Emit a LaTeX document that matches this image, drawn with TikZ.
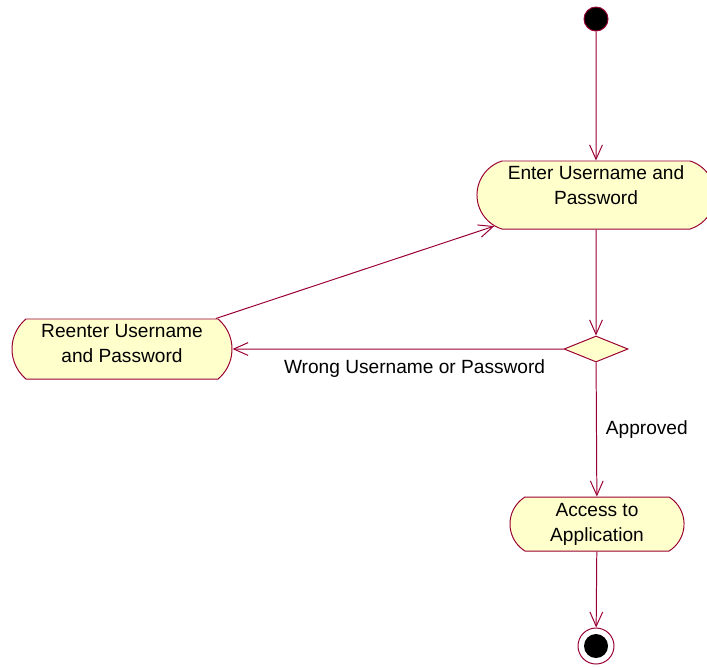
\documentclass[tikz,border=0pt]{standalone}
\usepackage{fontspec}
\setmainfont{Liberation Sans}
\usetikzlibrary{shapes.misc,shapes.geometric,arrows.meta}

\definecolor{roseline}{RGB}{153,0,51}
\definecolor{rosefill}{RGB}{255,255,204}

\tikzset{
	activity/.style={rounded rectangle,draw=roseline,fill=rosefill,line width=0.7pt,align=center,inner sep=0pt},
	decision/.style={diamond,draw=roseline,fill=rosefill,line width=0.7pt,inner sep=0pt,minimum width=1.6cm,minimum height=0.65cm},
	flow/.style={draw=roseline,line width=0.7pt,-{Straight Barb[length=3.6mm,width=3.2mm,line width=0.7pt]}},
	txt/.style={font=\fontsize{13.6}{17.7}\selectfont}
}

\begin{document}
\begin{tikzpicture}[x=0.025cm,y=-0.025cm]
	\useasboundingbox (0,0) rectangle (707,667);
\node[circle,fill=black,draw=roseline,line width=0.7pt,minimum size=0.6cm,inner sep=0pt] (start) at (596,19) {};
\node[activity,txt,minimum width=5.95cm,minimum height=1.7cm,rounded rectangle arc length=145,text depth=0.5cm] (enter) at (596,195) {Enter Username and\\Password};
\node[decision] (check) at (596,349) {};
\node[activity,txt,minimum width=5.5cm,minimum height=1.5cm,rounded rectangle arc length=100,text depth=0.3cm] (reenter) at (122,349) {Reenter Username\\and Password};
\node[activity,txt,minimum width=4.35cm,minimum height=1.35cm,rounded rectangle arc length=116] (access) at (597,524) {Access to\\Application};
\node[circle,draw=roseline,fill=white,line width=0.7pt,minimum size=0.9cm,inner sep=0pt] (stop) at (596,646) {};
\node[circle,fill=black,minimum size=0.6cm,inner sep=0pt] (stopdot) at (596,646) {};

\draw[flow] (start) -- (enter);
\draw[flow] (enter) -- (check);
\draw[flow] (check) -- node[txt,below=4pt,pos=0.45] (wrong) {Wrong Username or Password} (reenter);
\draw[flow] (reenter.18) -- (enter.197);
\draw[flow] (check) -- node[txt,right=3pt,pos=0.5] (ok) {Approved} (access);
\draw[flow] (access) -- (stop);

\end{tikzpicture}
\end{document}
